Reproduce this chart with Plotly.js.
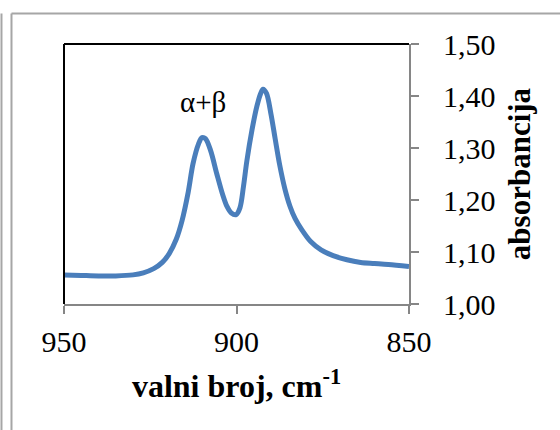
<!DOCTYPE html>
<html>
<head>
<meta charset="utf-8">
<script src="https://cdn.plot.ly/plotly-3.0.1.min.js"></script>
<style>
  html, body { margin: 0; padding: 0; background: #ffffff; }
  #chart { width: 560px; height: 430px; }
</style>
</head>
<body>
<div id="chart"></div>
<script>
// Wavenumber (cm-1) and absorbance
const wavenumber = [950, 945, 940, 935, 930, 927, 924, 921.5, 919.5, 917.5, 915.8, 914, 912.6, 911, 910, 909, 907.5, 905.7, 904, 902.8, 901.5, 900.1, 899, 898, 897, 895.5, 894.1, 893, 892.3, 891.3, 890, 888.8, 887.5, 886, 884.5, 883, 881, 878.5, 875.5, 872, 868, 864, 860, 856, 850];
const absorbance = [1.056, 1.055, 1.054, 1.054, 1.056, 1.060, 1.068, 1.080, 1.097, 1.124, 1.160, 1.215, 1.270, 1.308, 1.320, 1.318, 1.295, 1.250, 1.210, 1.188, 1.175, 1.172, 1.185, 1.225, 1.275, 1.335, 1.380, 1.405, 1.413, 1.405, 1.365, 1.318, 1.268, 1.222, 1.188, 1.164, 1.142, 1.120, 1.104, 1.093, 1.085, 1.080, 1.078, 1.076, 1.072];

const xTickVals = [950, 900, 850];
const xTickText = ['950', '900', '850'];
const yTickVals = [1.00, 1.10, 1.20, 1.30, 1.40, 1.50];
const yTickText = ['1,00', '1,10', '1,20', '1,30', '1,40', '1,50'];

const peakLabel = 'α+β';
const peakLabelPos = {x: 909.7, y: 1.388};

const xTitle = '<b>valni broj, cm<sup>-1</sup></b>';
const yTitle = '<b>absorbancija</b>';

const serif = '"Liberation Serif", "Times New Roman", serif';
const grey = '#868686';
const frameGrey = '#a6a6a6';

const trace = {
  x: wavenumber,
  y: absorbance,
  type: 'scatter',
  mode: 'lines',
  line: {color: '#4a7ebb', width: 5, shape: 'spline', smoothing: 0.9},
  hoverinfo: 'skip',
  showlegend: false
};

const layout = {
  width: 560,
  height: 430,
  margin: {l: 64, r: 151, t: 44, b: 126, pad: 0},
  paper_bgcolor: '#ffffff',
  plot_bgcolor: '#ffffff',
  font: {family: serif, color: '#000000', size: 30},
  showlegend: false,
  xaxis: {
    range: [950, 850],
    tickvals: xTickVals,
    ticktext: xTickText,
    ticks: 'outside',
    ticklen: 8,
    tickwidth: 2,
    tickcolor: grey,
    showline: true,
    linecolor: grey,
    linewidth: 2,
    showgrid: false,
    zeroline: false,
    tickfont: {family: serif, size: 30, color: '#000000'},
    ticklabelstandoff: 2,
    title: {text: xTitle, font: {family: serif, size: 32, color: '#000000'}, standoff: 18},
    automargin: false
  },
  yaxis: {
    side: 'right',
    range: [1.0, 1.5],
    tickvals: yTickVals,
    ticktext: yTickText,
    ticks: 'outside',
    ticklen: 8,
    tickwidth: 2,
    tickcolor: grey,
    showline: true,
    linecolor: grey,
    linewidth: 2,
    showgrid: false,
    zeroline: false,
    tickfont: {family: serif, size: 30, color: '#000000'},
    ticklabelstandoff: 18,
    title: {text: yTitle, font: {family: serif, size: 31, color: '#000000'}, standoff: 14},
    automargin: false
  },
  annotations: [{
    x: peakLabelPos.x, y: peakLabelPos.y, xref: 'x', yref: 'y',
    text: peakLabel, showarrow: false,
    font: {family: serif, size: 29, color: '#000000'}
  }],
  shapes: [
    {type: 'line', xref: 'paper', yref: 'paper', x0: 0, x1: 1, y0: 1, y1: 1, line: {color: '#000000', width: 2}},
    {type: 'line', xref: 'paper', yref: 'paper', x0: 0, x1: 0, y0: 0, y1: 1, line: {color: '#000000', width: 2}},
    {type: 'line', xref: 'paper', yref: 'paper', x0: -0.1812, x1: -0.1812, y0: 1.1173, y1: -0.55, line: {color: frameGrey, width: 2}},
    {type: 'line', xref: 'paper', yref: 'paper', x0: -0.1522, x1: -0.1522, y0: 1.1173, y1: -0.55, line: {color: frameGrey, width: 2}},
    {type: 'line', xref: 'paper', yref: 'paper', x0: -0.1522, x1: 1.5, y0: 1.1173, y1: 1.1173, line: {color: frameGrey, width: 2}}
  ]
};

Plotly.newPlot('chart', [trace], layout, {displayModeBar: false, staticPlot: true});
</script>
</body>
</html>
